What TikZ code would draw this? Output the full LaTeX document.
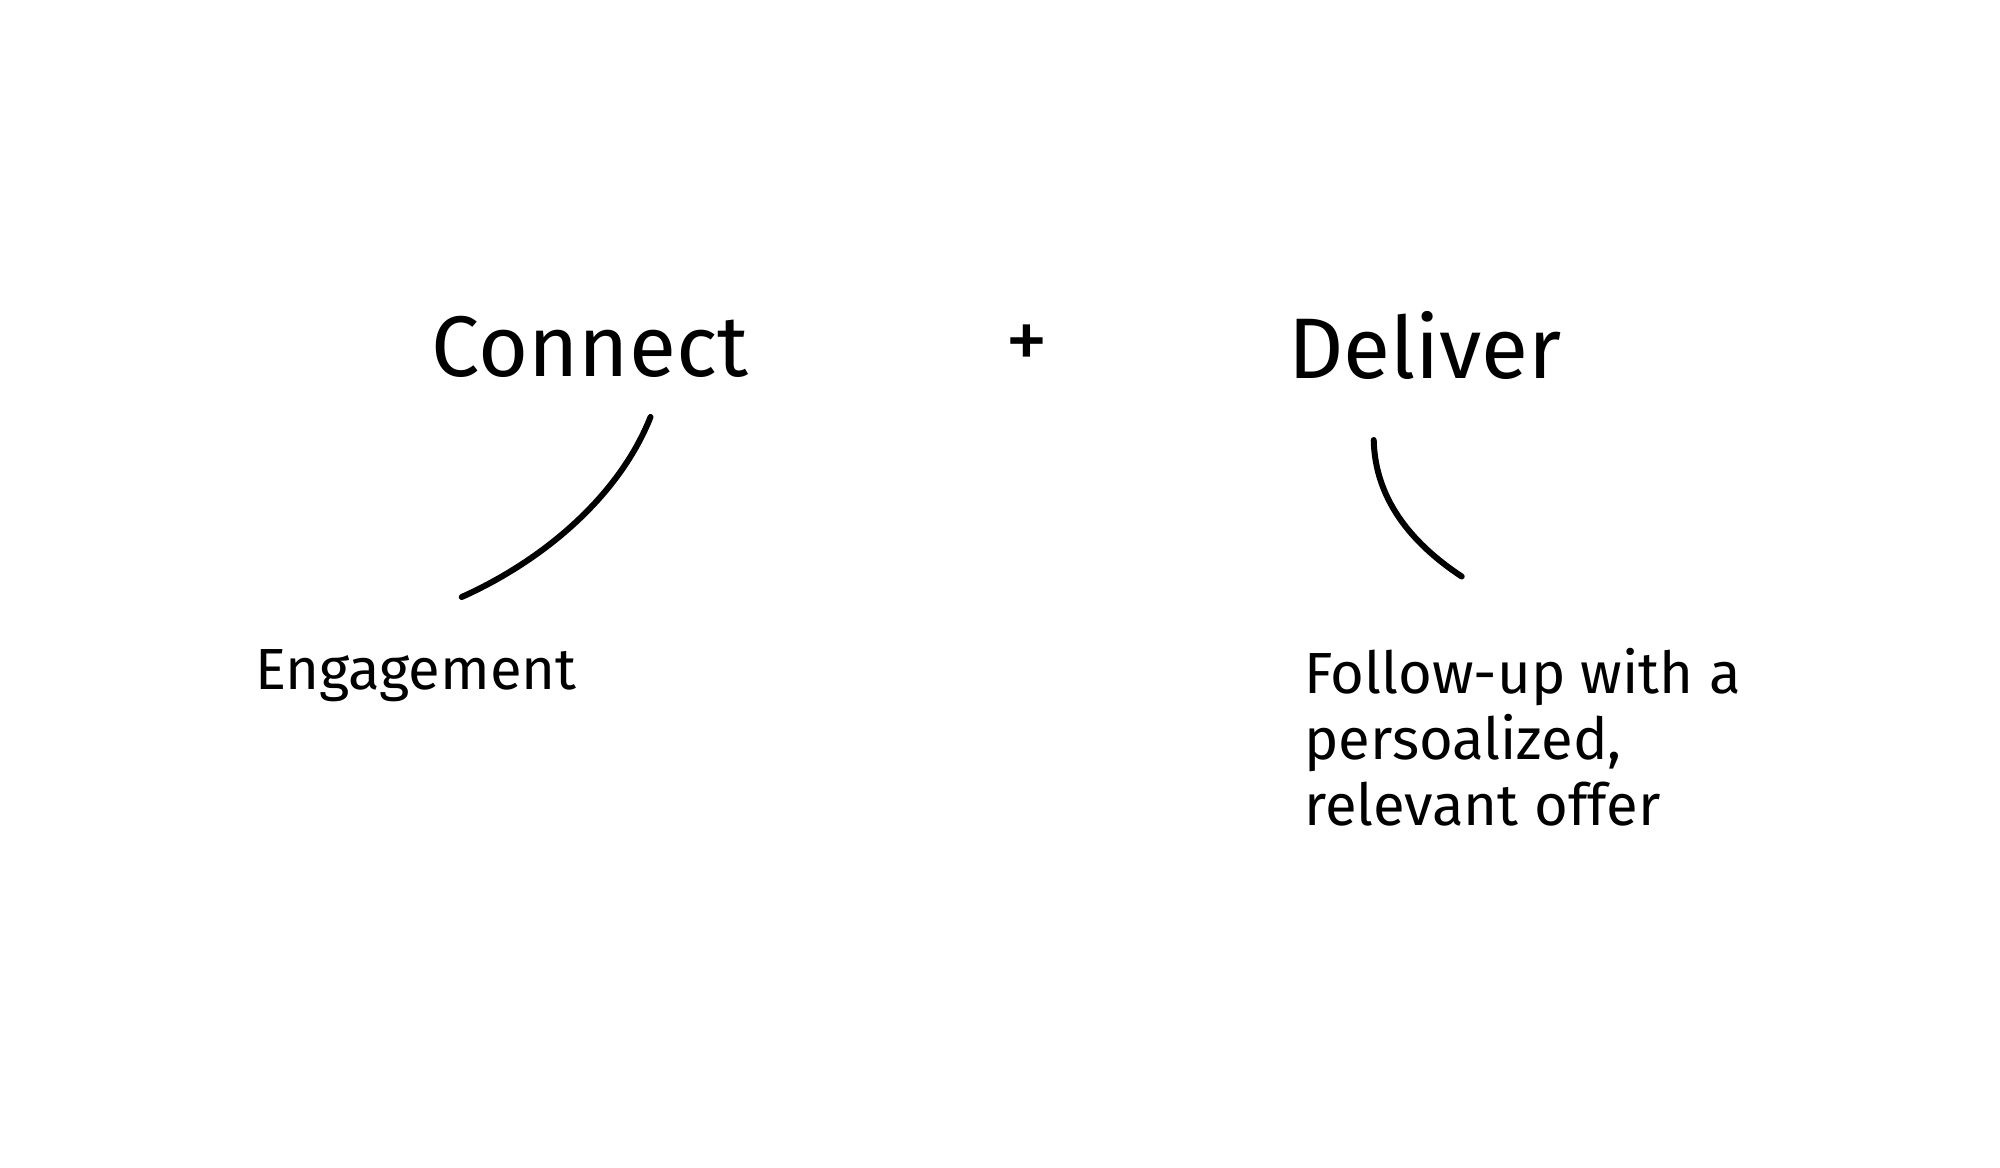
\documentclass[tikz,border=0pt]{standalone}
\usepackage{fontspec}
\setmainfont{Fira Sans}
\begin{document}
\begin{tikzpicture}[x=0.5pt,y=-0.5pt,
  bigword/.style={inner sep=0pt, font=\fontsize{43}{50}\selectfont, anchor=base},
  smallword/.style={inner sep=0pt, font=\fontsize{29}{33}\selectfont},
  stroke/.style={line width=3pt, line cap=round, black}]
\fill[white] (0,0) rectangle (2000,1167);
\useasboundingbox (0,0) rectangle (2000,1167);
% titles
\node[bigword] (connect) at (590,376) {Connect};
\node[inner sep=0pt, font=\fontsize{43}{50}\selectfont] (plus) at (1027,347) {+};
\node[bigword] (deliver) at (1425,378) {Deliver};
% labels
\node[smallword, anchor=base] (engage) at (416,689) {Engagement};
\node[smallword, anchor=north west, align=left] (follow) at (1304,648)
  {Follow-up with a\\persoalized,\\relevant offer};
% connector end points
\coordinate (c1) at (650.5,417);
\coordinate (c2) at (461.7,597);
\coordinate (d1) at (1373.7,440);
\coordinate (d2) at (1461.7,576.5);
\draw[stroke] (c1) .. controls (618.6,497.4) and (542,561) .. (c2);
\draw[stroke] (d1) .. controls (1375,497.4) and (1409.4,542) .. (d2);
\end{tikzpicture}
\end{document}
